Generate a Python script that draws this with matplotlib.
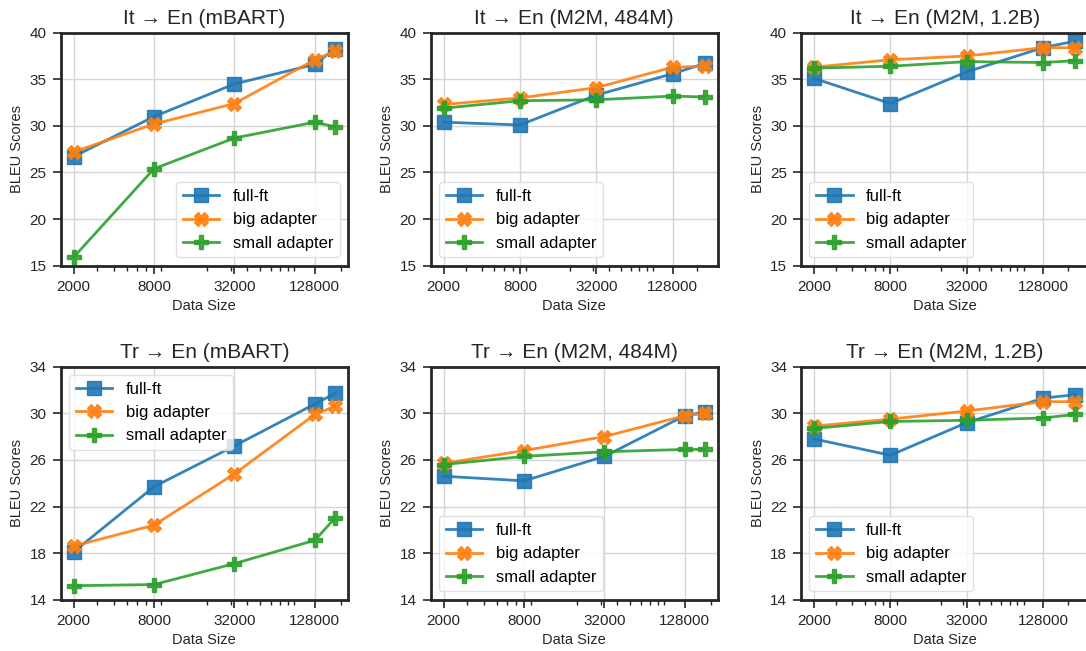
import matplotlib
matplotlib.use("Agg")
import matplotlib.pyplot as plt
import matplotlib.ticker as mticker
import numpy as np

# tamaños de datos (el ultimo punto es el conjunto completo)
sizes_a = [2000, 8000, 32000, 128000, 181000]
sizes_b = [2000, 8000, 32000, 128000, 230000]

titles = ['It → En (mBART)', 'It → En (M2M, 484M)', 'It → En (M2M, 1.2B)',
          'Tr → En (mBART)', 'Tr → En (M2M, 484M)', 'Tr → En (M2M, 1.2B)']
xdata = [sizes_a, sizes_b, sizes_b, sizes_a, sizes_a, sizes_b]

full_ft = [
    [26.7, 31.0, 34.5, 36.6, 38.3],
    [30.4, 30.1, 33.3, 35.6, 36.7],
    [35.1, 32.4, 35.8, 38.4, 39.1],
    [18.1, 23.7, 27.2, 30.8, 31.7],
    [24.6, 24.2, 26.3, 29.8, 30.1],
    [27.8, 26.4, 29.2, 31.3, 31.6],
]
big_adapter = [
    [27.2, 30.2, 32.4, 37.1, 38.0],
    [32.3, 33.0, 34.1, 36.3, 36.4],
    [36.3, 37.1, 37.5, 38.4, 38.4],
    [18.6, 20.4, 24.8, 29.9, 30.6],
    [25.7, 26.8, 28.0, 29.8, 30.0],
    [28.9, 29.5, 30.2, 31.0, 31.0],
]
small_adapter = [
    [15.9, 25.4, 28.7, 30.4, 29.9],
    [31.9, 32.7, 32.8, 33.2, 33.1],
    [36.2, 36.4, 36.9, 36.8, 37.0],
    [15.2, 15.3, 17.1, 19.1, 21.0],
    [25.6, 26.3, 26.7, 26.9, 26.9],
    [28.7, 29.3, 29.4, 29.6, 29.9],
]
legend_loc = ['lower right', 'lower left', 'lower left',
              'upper left', 'lower left', 'lower left']

xticks = [2000, 8000, 32000, 128000]
yticks_top = [15, 20, 25, 30, 35, 40]
yticks_bot = [14, 18, 22, 26, 30, 34]

plt.rcParams['font.family'] = ['Liberation Sans', 'DejaVu Sans']

fig = plt.figure(figsize=(10.86, 6.51), dpi=100)
W, H = 1086.0, 651.0
lefts = [60.5, 430.5, 801.0]
tops = [32.7, 366.7]
aw, ah = 287.5, 233.0

for i in range(6):
    r, c = divmod(i, 3)
    ax = fig.add_axes([lefts[c] / W, 1 - (tops[r] + ah) / H, aw / W, ah / H])
    x = xdata[i]
    ax.plot(x, full_ft[i], marker='s', color='#1f77b4', lw=2, ms=9.5, alpha=0.9, label='full-ft')
    ax.plot(x, big_adapter[i], marker='X', color='#ff7f0e', lw=2, ms=9.5, alpha=0.9, label='big adapter')
    ax.plot(x, small_adapter[i], marker='P', color='#2ca02c', lw=2, ms=9.5, alpha=0.9, label='small adapter')

    ax.set_xscale('log')
    ax.set_xticks(xticks)
    ax.xaxis.set_major_formatter(mticker.FixedFormatter([str(t) for t in xticks]))
    ax.xaxis.set_minor_formatter(mticker.NullFormatter())
    if r == 0:
        ax.set_ylim(15, 40)
        ax.set_yticks(yticks_top)
    else:
        ax.set_ylim(14, 34)
        ax.set_yticks(yticks_bot)

    ax.grid(True, which='major', color='#d5d5d5', lw=1)
    ax.set_axisbelow(True)
    for s in ax.spines.values():
        s.set_linewidth(2)
        s.set_color('#262626')
    ax.tick_params(axis='both', which='major', length=6, width=1.2, color='#262626',
                   labelsize=11, labelcolor='#262626', pad=4)
    ax.tick_params(axis='x', which='minor', length=3.5, width=1, color='#262626')
    ax.set_title(titles[i], fontsize=15, color='#262626', pad=6)
    ax.set_xlabel('Data Size', fontsize=10.5, color='#262626')
    ax.set_ylabel('BLEU Scores', fontsize=10.5, color='#262626')
    leg = ax.legend(loc=legend_loc[i], fontsize=12, frameon=True, handlelength=2.2)
    leg.get_frame().set_edgecolor('#dadada')

fig.savefig('out.png', dpi=100)
